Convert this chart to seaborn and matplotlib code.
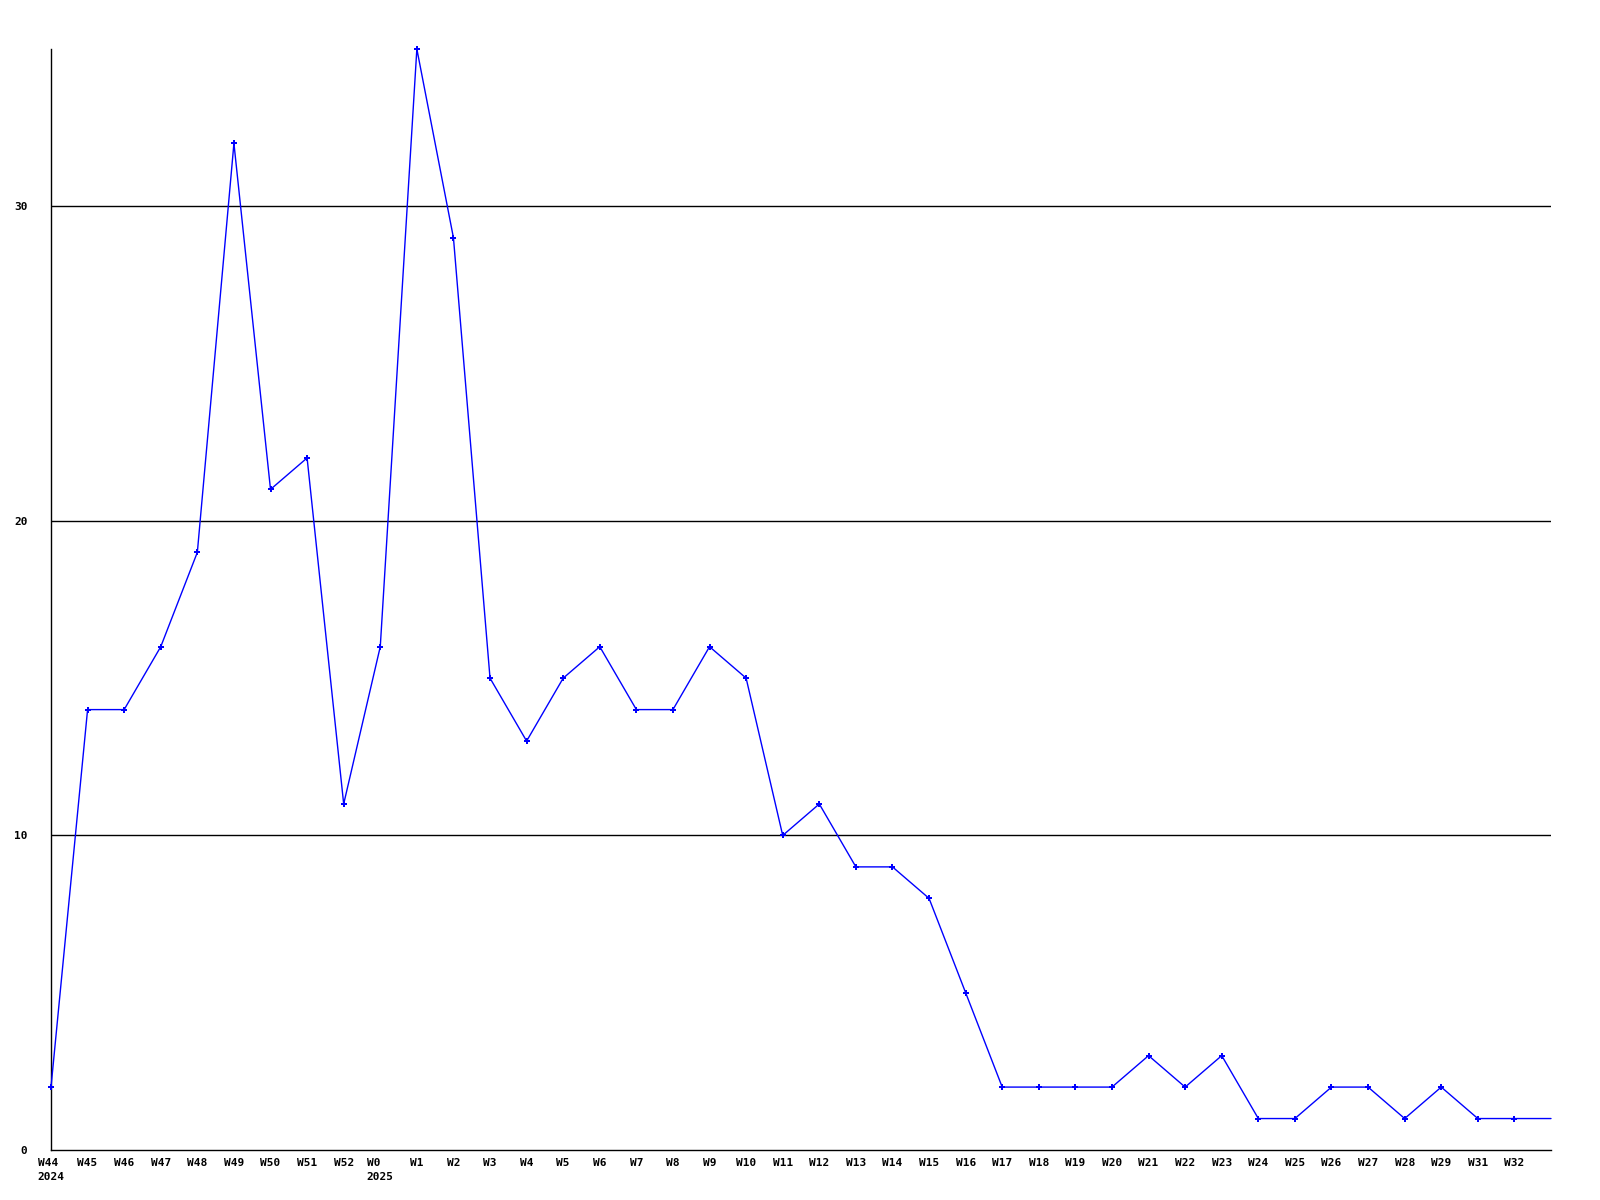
import numpy as np
import pandas as pd
import matplotlib
matplotlib.use("Agg")
import matplotlib.pyplot as plt
import seaborn as sns

# Weekly counts, W44 2024 .. W32 2025 (last point is the running week, unlabelled)
weeks = ["W44", "W45", "W46", "W47", "W48", "W49", "W50", "W51", "W52", "W0",
         "W1", "W2", "W3", "W4", "W5", "W6", "W7", "W8", "W9", "W10",
         "W11", "W12", "W13", "W14", "W15", "W16", "W17", "W18", "W19", "W20",
         "W21", "W22", "W23", "W24", "W25", "W26", "W27", "W28", "W29", "W31",
         "W32", ""]
years = {"W44": "2024", "W0": "2025"}
counts = [2, 14, 14, 16, 19, 32, 21, 22, 11, 16,
          35, 29, 15, 13, 15, 16, 14, 14, 16, 15,
          10, 11, 9, 9, 8, 5, 2, 2, 2, 2,
          3, 2, 3, 1, 1, 2, 2, 1, 2, 1,
          1, 1]
y_ticks = [0, 10, 20, 30]

df = pd.DataFrame({"pos": np.arange(len(counts)), "week": weeks, "count": counts})

sns.set_style("white")
plt.rcParams['font.family'] = ['DejaVu Sans Mono']
plt.rcParams['text.color'] = 'black'
plt.rcParams['xtick.color'] = 'black'
plt.rcParams['ytick.color'] = 'black'

fig = plt.figure(figsize=(16, 12), dpi=100)
ax = fig.add_axes([51 / 1600, 1 - 1150 / 1200, 1500 / 1600, 1101 / 1200])

for t in y_ticks[1:]:
    ax.axhline(t, color="black", linewidth=1, zorder=1)

sns.lineplot(data=df, x="pos", y="count", ax=ax, color="#0000ff", linewidth=1,
             marker="P", markersize=5, markevery=list(range(len(counts) - 1)),
             markeredgewidth=0, zorder=3, clip_on=False)

ax.set_xlim(0, len(counts) - 1)
ax.set_ylim(0, max(counts))
ax.set_yticks(y_ticks)
ax.set_yticklabels([str(t) for t in y_ticks], fontsize=8, fontweight="bold", color="black")
labels = [w + ("\n" + years[w] if w in years else "") for w in weeks]
ax.set_xticks(df["pos"])
ax.set_xticklabels(labels, fontsize=8, fontweight="bold", multialignment="left",
                   va="top", linespacing=1.5, color="black")
ax.tick_params(axis="both", length=0)
ax.tick_params(axis="y", pad=17)
ax.tick_params(axis="x", pad=6)
ax.set_xlabel("")
ax.set_ylabel("")

for s in ["top", "right"]:
    ax.spines[s].set_visible(False)
for s in ["left", "bottom"]:
    ax.spines[s].set_color("black")
    ax.spines[s].set_linewidth(1)

fig.savefig("out.png", dpi=100, facecolor="white")
